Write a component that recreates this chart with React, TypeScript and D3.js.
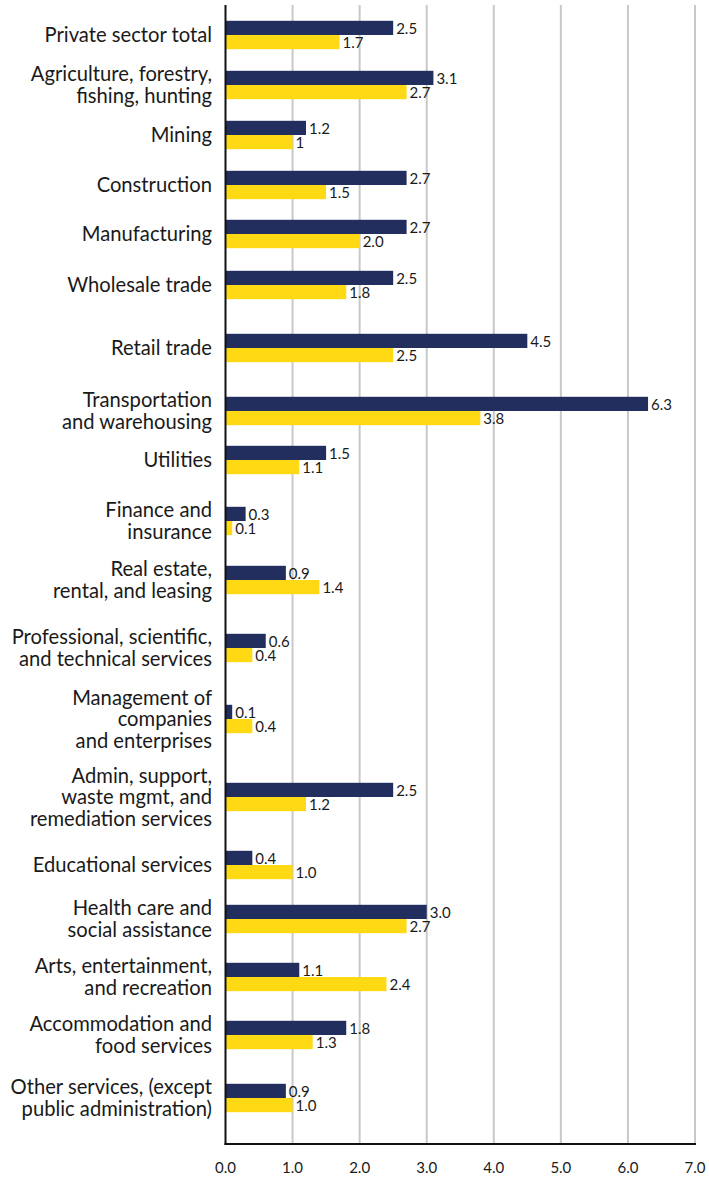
import React from "react";
import * as d3 from "d3";

const categories: string[][] = [
  ["Private sector total"],
  ["Agriculture, forestry,", "fishing, hunting"],
  ["Mining"],
  ["Construction"],
  ["Manufacturing"],
  ["Wholesale trade"],
  ["Retail trade"],
  ["Transportation", "and warehousing"],
  ["Utilities"],
  ["Finance and", "insurance"],
  ["Real estate,", "rental, and leasing"],
  ["Professional, scientific,", "and technical services"],
  ["Management of", "companies", "and enterprises"],
  ["Admin, support,", "waste mgmt, and", "remediation services"],
  ["Educational services"],
  ["Health care and", "social assistance"],
  ["Arts, entertainment,", "and recreation"],
  ["Accommodation and", "food services"],
  ["Other services, (except", "public administration)"],
];

const navyValues = [2.5, 3.1, 1.2, 2.7, 2.7, 2.5, 4.5, 6.3, 1.5, 0.3, 0.9, 0.6, 0.1, 2.5, 0.4, 3.0, 1.1, 1.8, 0.9];
const navyLabels = ["2.5", "3.1", "1.2", "2.7", "2.7", "2.5", "4.5", "6.3", "1.5", "0.3", "0.9", "0.6", "0.1", "2.5", "0.4", "3.0", "1.1", "1.8", "0.9"];
const yellowValues = [1.7, 2.7, 1.0, 1.5, 2.0, 1.8, 2.5, 3.8, 1.1, 0.1, 1.4, 0.4, 0.4, 1.2, 1.0, 2.7, 2.4, 1.3, 1.0];
const yellowLabels = ["1.7", "2.7", "1", "1.5", "2.0", "1.8", "2.5", "3.8", "1.1", "0.1", "1.4", "0.4", "0.4", "1.2", "1.0", "2.7", "2.4", "1.3", "1.0"];

const xTicks = [0, 1, 2, 3, 4, 5, 6, 7];
// relative spacing between consecutive rows (layout weights)
const rowGaps = [5, 5, 5, 4.9, 5.1, 6.3, 6.3, 4.9, 6.1, 5.9, 6.8, 7.1, 7.8, 6.8, 5.4, 5.8, 5.8, 6.3];

const NAVY = "#212e5e";
const YELLOW = "#ffd914";
const FONT = "Lato, 'Open Sans', sans-serif";

export default function App() {
  const width = 709;
  const height = 1183;
  const x = d3.scaleLinear().domain([0, 7]).range([225.5, 695]);
  const cum = [0, ...d3.cumsum(rowGaps)];
  const y = d3.scaleLinear().domain([0, cum[cum.length - 1]]).range([35, 1098]);
  const barH = 14.2;
  const axisY = 1144;
  const lineH = 21.5;

  return (
    <svg width={width} height={height} style={{ position: "absolute", left: 0, top: 0 }}>
      <rect width={width} height={height} fill="#fff" />
      {xTicks.slice(1).map((t) => (
        <line key={t} x1={x(t)} x2={x(t)} y1={5} y2={axisY} stroke="#c8c8c8" strokeWidth={2} />
      ))}
      {categories.map((lines, i) => {
        const cy = y(cum[i]);
        const n = lines.length;
        return (
          <g key={i}>
            <rect x={x(0)} y={cy - barH} width={x(navyValues[i]) - x(0)} height={barH} fill={NAVY} />
            <rect x={x(0)} y={cy} width={x(yellowValues[i]) - x(0)} height={barH} fill={YELLOW} />
            <text x={x(navyValues[i]) + 3} y={cy - barH / 2 + 0.5} dy="0.35em" fontFamily={FONT} fontSize={15} fill="#1a1a1a">
              {navyLabels[i]}
            </text>
            <text x={x(yellowValues[i]) + 3} y={cy + barH / 2 + 1} dy="0.35em" fontFamily={FONT} fontSize={15} fill="#1a1a1a">
              {yellowLabels[i]}
            </text>
            <text textAnchor="end" fontFamily={FONT} fontSize={20.2} fill="#1a1a1a">
              {lines.map((l, j) => (
                <tspan key={j} x={212} y={cy + (j - (n - 1) / 2) * lineH} dy="0.35em">
                  {l}
                </tspan>
              ))}
            </text>
          </g>
        );
      })}
      <line x1={x(0)} x2={x(0)} y1={5} y2={axisY + 1} stroke="#111" strokeWidth={2} />
      <line x1={x(0) - 1} x2={x(7) + 1} y1={axisY} y2={axisY} stroke="#111" strokeWidth={2} />
      {xTicks.map((t) => (
        <text key={t} x={x(t)} y={1168} dy="0.35em" textAnchor="middle" fontFamily={FONT} fontSize={15} fill="#1a1a1a">
          {t.toFixed(1)}
        </text>
      ))}
    </svg>
  );
}
